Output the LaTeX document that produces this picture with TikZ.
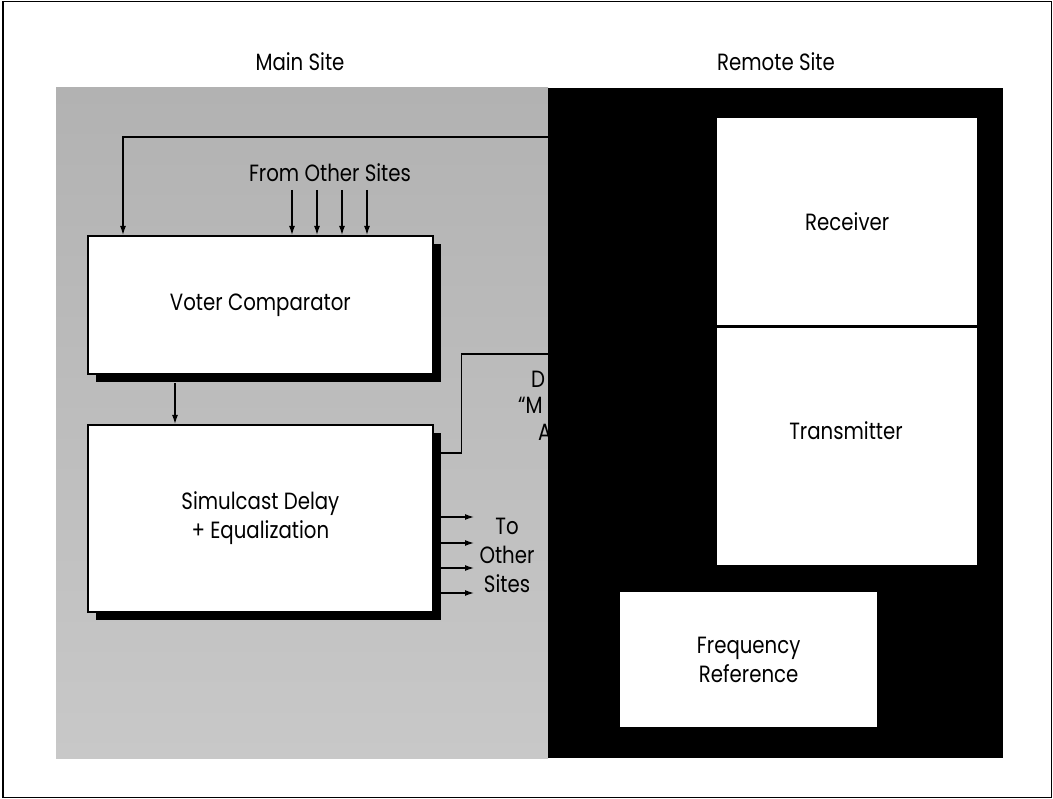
\documentclass[tikz,border=0pt]{standalone}
\usepackage{fontspec}
\setmainfont{Poppins}[FakeStretch=0.84]
\usetikzlibrary{arrows.meta,shadows}
\definecolor{bggray}{RGB}{200,200,200}
\definecolor{bggraydark}{RGB}{178,178,178}
\begin{document}
\begin{tikzpicture}[x=1pt,y=-1pt,
  txt/.style={font=\fontsize{23.5}{29}\selectfont},
  mainbox/.style={draw=black, line width=1.8pt, fill=white, anchor=north west, txt,
    align=center, drop shadow={shadow xshift=8pt, shadow yshift=-8pt, fill=black, opacity=1}},
  remotebox/.style={fill=white, anchor=north west, txt, align=center},
  arr/.style={-{Latex[length=9pt,width=6pt]}, line width=1.3pt},
  wire/.style={line width=1.3pt},
  label/.style={txt, align=center, inner sep=0pt}]
\useasboundingbox (0,0) rectangle (1053,799);
% outer frame
\draw[line width=1.4pt] (3,1.5) rectangle (1051.3,797.3);
% site regions
\shade[top color=bggraydark, bottom color=bggray] (56,88) rectangle (548,758);
\fill[black] (548,88) rectangle (1003,758);
% titles
\node[label, anchor=base] (maint) at (300,71) {Main Site};
\node[label, anchor=base] (remt) at (776,71) {Remote Site};
% main site boxes
\node[mainbox, minimum width=345pt, minimum height=138pt] (vc) at (87,235) {Voter Comparator};
\node[mainbox, minimum width=345pt, minimum height=187pt] (sd) at (87,424) {Simulcast Delay\\+ Equalization};
% remote site boxes
\node[remotebox, minimum width=260pt, minimum height=207pt] (rx) at (717,118) {Receiver};
\node[remotebox, minimum width=260pt, minimum height=237pt] (tx) at (717,328) {};
\node[label, anchor=base] (txl) at (846,440) {Transmitter};
\node[remotebox, minimum width=257pt, minimum height=135pt] (fr) at (620,592) {Frequency\\Reference};
% feedback from remote site into voter
\coordinate (fb) at (548,137);
\draw[arr] (fb) -| ([xshift=36pt]vc.north west);
% from other sites
\node[label, anchor=base] (fos) at (330,182) {From Other Sites};
\foreach \i/\x in {1/292,2/317,3/342,4/367}{
  \coordinate (fo\i) at (\x,190);
  \draw[arr] (fo\i) -- (fo\i |- vc.north);
}
% voter to simulcast
\draw[arr] ([xshift=88pt,yshift=-8pt]vc.south west) -- ([xshift=88pt]sd.north west);
% delay line to remote site
\coordinate (dl) at (548,354);
\draw[wire] ([yshift=-29pt]sd.north east) -- ++(28,0) |- (dl);
% to other sites
\foreach \i/\y in {1/517,2/543,3/568,4/593}{
  \coordinate (to\i) at (474,\y);
  \draw[arr] (sd.east |- to\i) -- (to\i);
}
\node[label, anchor=base] (tos) at (507,592) {To\\Other\\Sites};
% partly hidden label at the edge of the remote site
\begin{scope}
  \clip (400,360) rectangle (548,450);
  \node[label, anchor=base west] (dfrag) at (531,388) {D};
  \node[label, anchor=base west] (mfrag) at (518,414) {“M};
  \node[label, anchor=base west] (afrag) at (538,441) {A};
\end{scope}
\end{tikzpicture}
\end{document}
